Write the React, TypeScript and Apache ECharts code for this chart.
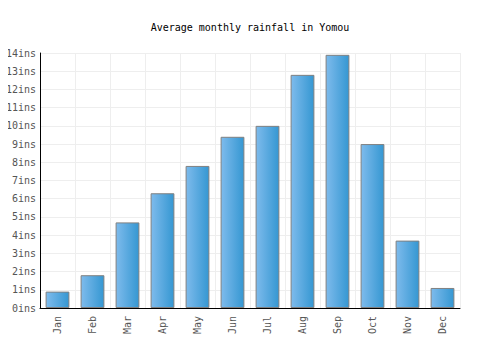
import React, { useEffect, useRef } from "react";
import * as echarts from "echarts";

const months = ["Jan", "Feb", "Mar", "Apr", "May", "Jun", "Jul", "Aug", "Sep", "Oct", "Nov", "Dec"];
const rainfall = [0.9, 1.8, 4.7, 6.3, 7.8, 9.4, 10.0, 12.8, 13.9, 9.0, 3.7, 1.1];
const chartTitle = "Average monthly rainfall in Yomou";

export default function App() {
  const ref = useRef<HTMLDivElement>(null);
  useEffect(() => {
    if (!ref.current) return;
    const chart = echarts.init(ref.current, null, { renderer: "svg" });
    const font = "'DejaVu Sans Mono', monospace";
    chart.setOption({
      animation: false,
      title: {
        text: chartTitle,
        left: "center",
        top: 17,
        textStyle: { fontFamily: font, fontSize: 10, fontWeight: "normal", color: "#000" },
      },
      grid: { left: 40, right: 40, top: 53, bottom: 42 },
      xAxis: {
        type: "category",
        data: months,
        axisLine: { lineStyle: { color: "#000", width: 1 } },
        axisTick: { show: false },
        axisLabel: { rotate: 90, fontFamily: font, fontSize: 10, color: "#555", margin: 8 },
        splitLine: { show: true, lineStyle: { color: "#eeeeee" } },
      },
      yAxis: {
        type: "value",
        min: 0,
        max: 14,
        interval: 1,
        axisLine: { show: true, lineStyle: { color: "#000", width: 1 } },
        axisTick: { show: false },
        axisLabel: { formatter: "{value}ins", fontFamily: font, fontSize: 10, color: "#555", margin: 4 },
        splitLine: { show: true, lineStyle: { color: "#eeeeee" } },
      },
      series: [
        {
          type: "bar",
          data: rainfall,
          barWidth: "68%",
          itemStyle: {
            color: new echarts.graphic.LinearGradient(0, 0, 1, 0, [
              { offset: 0, color: "#7ebbec" },
              { offset: 1, color: "#3597d2" },
            ]),
            borderColor: "#808080",
            borderWidth: 1,
          },
        },
      ],
    });
    return () => chart.dispose();
  }, []);
  return <div ref={ref} style={{ width: 500, height: 350, margin: -8 }} />;
}
